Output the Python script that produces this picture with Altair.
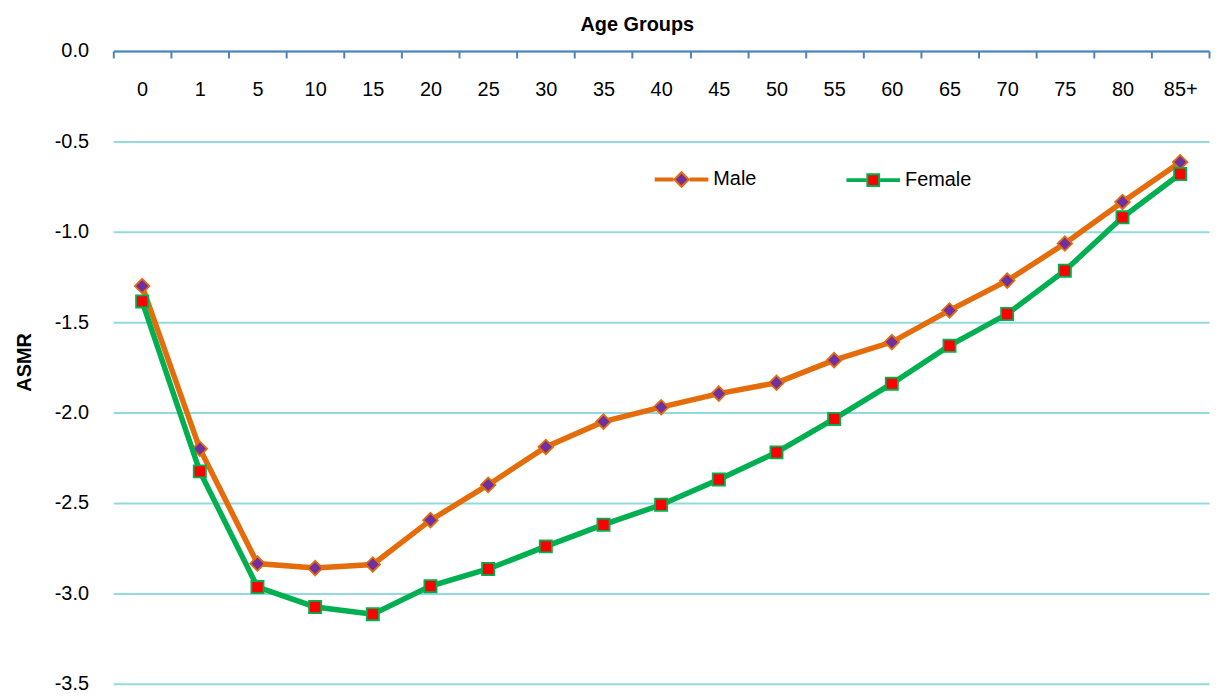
import altair as alt
import pandas as pd

ages = ["0", "1", "5", "10", "15", "20", "25", "30", "35", "40", "45",
        "50", "55", "60", "65", "70", "75", "80", "85+"]
male = [-1.30, -2.20, -2.835, -2.86, -2.84, -2.595, -2.40, -2.19, -2.05, -1.97,
        -1.895, -1.835, -1.71, -1.61, -1.435, -1.27, -1.065, -0.835, -0.615]
female = [-1.385, -2.325, -2.965, -3.075, -3.115, -2.96, -2.865, -2.74, -2.62, -2.51,
          -2.37, -2.22, -2.035, -1.84, -1.63, -1.455, -1.215, -0.92, -0.68]
series = ["Male", "Female"]
line_colors = ["#e46c0a", "#00b050"]
marker_fills = ["#7030a0", "#ff0000"]
y_ticks = [0.0, -0.5, -1.0, -1.5, -2.0, -2.5, -3.0, -3.5]

W, H = 1103, 637
FONT = "Liberation Sans, Arial, sans-serif"

df = pd.DataFrame({
    "age": ages * 2,
    "asmr": male + female,
    "series": ["Male"] * len(ages) + ["Female"] * len(ages),
})

x_enc = alt.X(
    "age:N", sort=ages,
    scale=alt.Scale(type="band", paddingInner=0, paddingOuter=0),
    axis=alt.Axis(
        orient="bottom", offset=-H, title="Age Groups",
        titleFontSize=20, titleFontWeight="bold", titleColor="black",
        titleX=527, titleY=-27, titleAlign="center", titleBaseline="middle",
        labelAngle=0, labelFontSize=20, labelPadding=22, labelColor="black",
        tickBand="extent", tickSize=7, tickWidth=2, tickColor="#4f81bd",
        domainColor="#4f81bd", domainWidth=2, grid=False,
    ),
)
y_enc = alt.Y(
    "asmr:Q",
    scale=alt.Scale(domain=[-3.5, 0], nice=False, zero=False),
    axis=alt.Axis(
        values=y_ticks,
        labelExpr="(datum.value < 0 ? '-' : '') + format(abs(datum.value), '.1f')",
        domain=False, ticks=False, labelPadding=25, labelFontSize=20, labelColor="black",
        grid=True, gridColor="#93dae0", gridWidth=2,
        title="ASMR", titleFontSize=20, titleFontWeight="bold", titleColor="black",
        titleAngle=270, titleX=-89, titleY=313, titleAlign="center", titleBaseline="middle",
    ),
)

base = alt.Chart(df)
layers = []
shapes_chart = ["diamond", "square"]
sizes_chart = [215, 150]
for s, lc, mf, shp, sz in zip(series, line_colors, marker_fills, shapes_chart, sizes_chart):
    sub = base.transform_filter(alt.datum.series == s)
    layers.append(sub.mark_line(color=lc, strokeWidth=5.5).encode(x=x_enc, y=y_enc))
    layers.append(sub.mark_point(shape=shp, filled=True, fill=mf, stroke=lc, strokeWidth=1.8,
                                 size=sz, opacity=1).encode(x=x_enc, y=y_enc))

legend_paths = [
    "M-1,-0.035L-0.3,-0.035M-1,0.035L-0.3,0.035M0.3,-0.035L1,-0.035M0.3,0.035L1,0.035"
    "M0,-0.27L0.27,0L0,0.27L-0.27,0Z",
    "M-1,-0.035L-0.26,-0.035M-1,0.035L-0.26,0.035M0.26,-0.035L1,-0.035M0.26,0.035L1,0.035"
    "M-0.22,-0.22L0.22,-0.22L0.22,0.22L-0.22,0.22Z",
]
leg = alt.Legend(
    title=None, orient="none", legendX=544, legendY=101, direction="horizontal",
    symbolSize=2916, symbolStrokeWidth=2, symbolOpacity=1,
    labelFontSize=20, labelColor="black", labelOffset=4, columnPadding=86, padding=0,
)
legend_layer = base.transform_filter("false").mark_point(filled=True, opacity=1).encode(
    fill=alt.Fill("series:N", scale=alt.Scale(domain=series, range=marker_fills), legend=leg),
    stroke=alt.Stroke("series:N", scale=alt.Scale(domain=series, range=line_colors), legend=leg),
    shape=alt.Shape("series:N", scale=alt.Scale(domain=series, range=legend_paths), legend=leg),
)
layers.append(legend_layer)

chart = alt.layer(*layers).properties(
    width=W, height=H,
    autosize=alt.AutoSizeParams(type="none"),
    padding={"left": 106, "top": 41, "right": 2, "bottom": 10},
).configure(font=FONT).configure_view(stroke=None)

chart.save("out.html", embed_options={"renderer": "svg", "actions": False})
